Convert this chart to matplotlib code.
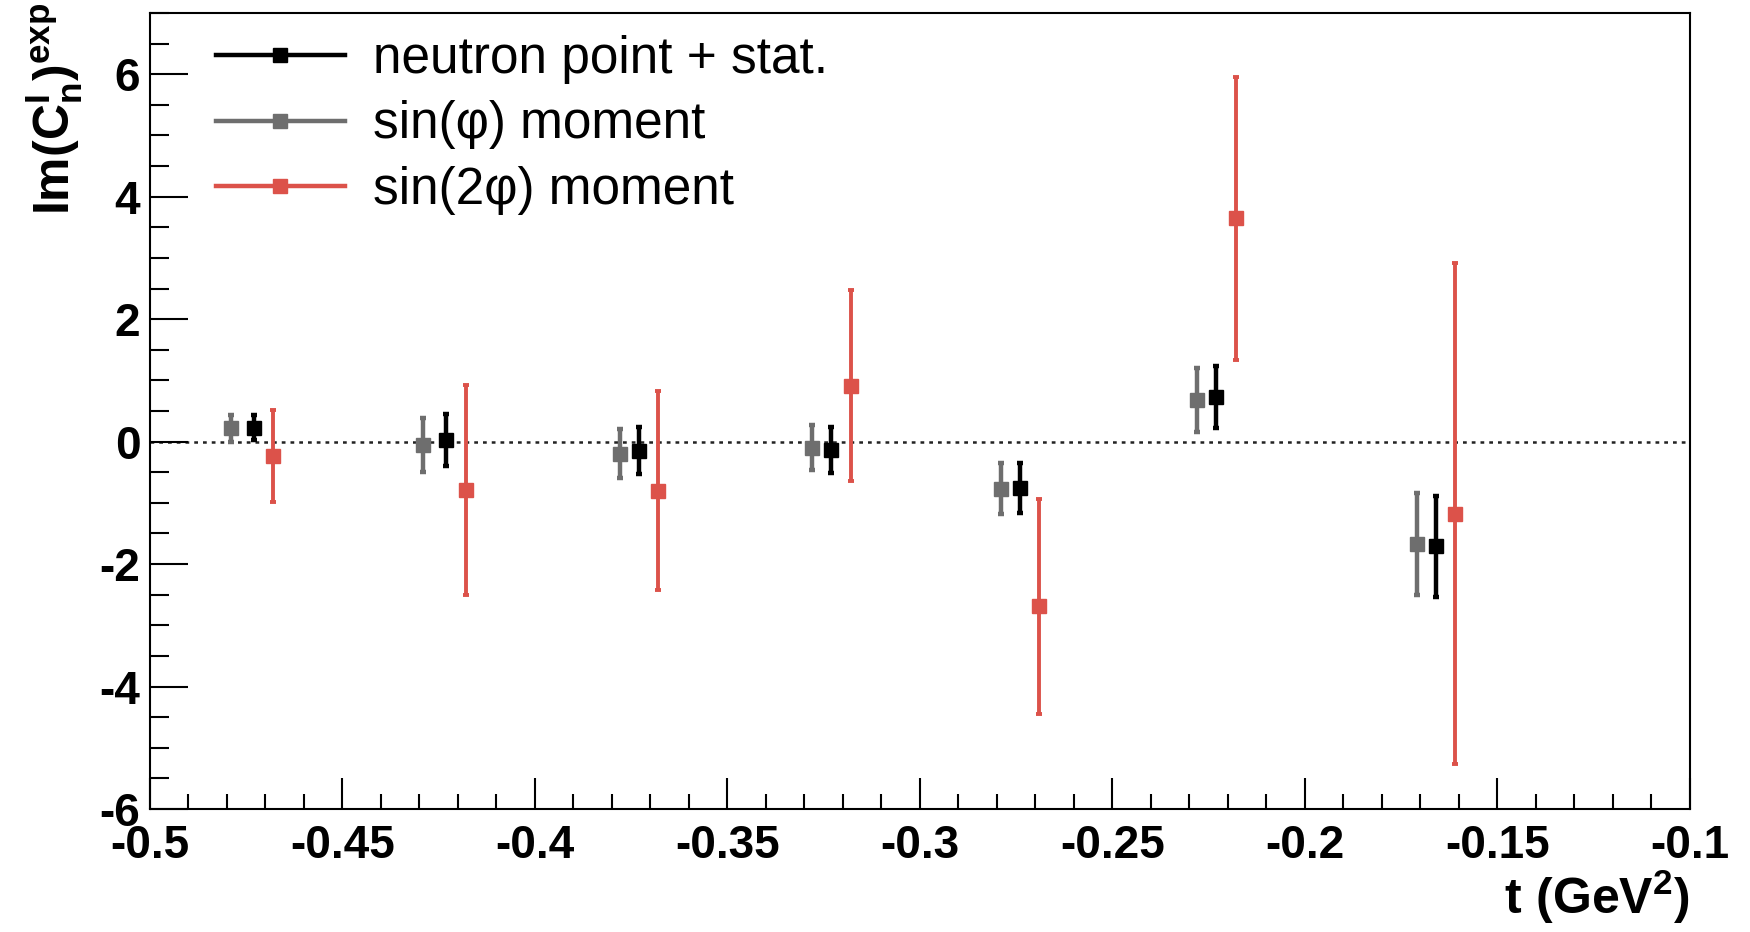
import matplotlib
matplotlib.use('Agg')
import matplotlib.pyplot as plt
from matplotlib.lines import Line2D
from matplotlib.ticker import MultipleLocator

plt.rcParams['font.family'] = ['Liberation Sans', 'DejaVu Sans']
plt.rcParams['axes.unicode_minus'] = False
plt.rcParams['mathtext.fontset'] = 'custom'
plt.rcParams['mathtext.rm'] = 'Liberation Sans:bold'
plt.rcParams['mathtext.it'] = 'Liberation Sans:bold'
plt.rcParams['mathtext.bf'] = 'Liberation Sans:bold'
plt.rcParams['mathtext.default'] = 'rm'

# neutron point + stat.
t_black = [-0.473, -0.423, -0.373, -0.323, -0.274, -0.223, -0.166]
y_black = [0.23, 0.03, -0.145, -0.14, -0.755, 0.725, -1.71]
e_black = [0.20, 0.42, 0.385, 0.38, 0.405, 0.505, 0.83]

# sin(phi) moment
t_gray = [-0.479, -0.429, -0.378, -0.328, -0.279, -0.228, -0.171]
y_gray = [0.215, -0.05, -0.2, -0.1, -0.77, 0.675, -1.675]
e_gray = [0.215, 0.44, 0.40, 0.37, 0.42, 0.525, 0.835]

# sin(2phi) moment
t_red = [-0.468, -0.418, -0.368, -0.318, -0.269, -0.218, -0.161]
y_red = [-0.23, -0.79, -0.80, 0.915, -2.69, 3.645, -1.18]
e_red = [0.75, 1.71, 1.62, 1.555, 1.76, 2.315, 4.09]

labels = ['neutron point + stat.', 'sin(φ) moment', 'sin(2φ) moment']
xtick_vals = [-0.5, -0.45, -0.4, -0.35, -0.3, -0.25, -0.2, -0.15, -0.1]
xtick_labels = ['-0.5', '-0.45', '-0.4', '-0.35', '-0.3', '-0.25', '-0.2', '-0.15', '-0.1']
c_black = 'black'
c_gray = '#6e6e6e'
c_red = '#dc524a'

fig = plt.figure(figsize=(17.5, 9.32), dpi=100)
ax = fig.add_axes([0.0857, 0.132, 0.88, 0.854])

ax.axhline(0, color='#222222', lw=1.8, ls=(0, (1.5, 2)), zorder=1)

for t, y, e, c, w in [(t_gray, y_gray, e_gray, c_gray, 3.2),
                      (t_black, y_black, e_black, c_black, 3.2),
                      (t_red, y_red, e_red, c_red, 2.8)]:
    ax.errorbar(t, y, yerr=e, fmt='s', color=c, ms=10.5, lw=w, capsize=2,
                capthick=w, zorder=3)

ax.set_xlim(-0.5, -0.1)
ax.set_ylim(-6, 7)
ax.xaxis.set_minor_locator(MultipleLocator(0.01))
ax.yaxis.set_major_locator(MultipleLocator(2))
ax.yaxis.set_minor_locator(MultipleLocator(0.5))
ax.set_xticks(xtick_vals)
ax.set_xticklabels(xtick_labels)
ax.tick_params(axis='x', which='major', direction='in', length=22, width=1.5,
               labelsize=33, pad=11, top=False)
ax.tick_params(axis='x', which='minor', direction='in', length=11, width=1.5, top=False)
ax.tick_params(axis='y', which='major', direction='in', length=27, width=1.5,
               labelsize=33, pad=7, right=False)
ax.tick_params(axis='y', which='minor', direction='in', length=14, width=1.5, right=False)
for lab in ax.get_xticklabels() + ax.get_yticklabels():
    lab.set_fontweight('bold')
for sp in ax.spines.values():
    sp.set_linewidth(1.5)

handles = [Line2D([], [], color=c, lw=3.2, marker='s', ms=10.5)
           for c in (c_black, c_gray, c_red)]
ax.legend(handles, labels, loc='upper left', bbox_to_anchor=(0.043, 0.973),
          frameon=False, fontsize=37, handlelength=2.5, handletextpad=0.55,
          labelspacing=0.33, borderpad=0, borderaxespad=0)

fig.text(0.031, 0.997, r'$\mathrm{Im(C^{I}_{n})^{exp}}$', rotation=90,
         ha='center', va='top', fontsize=36)
fig.text(0.9657, 0.038, r'$\mathrm{t\ (GeV^{2})}$', ha='right', va='center',
         fontsize=36)

fig.savefig('out.png', dpi=100)
